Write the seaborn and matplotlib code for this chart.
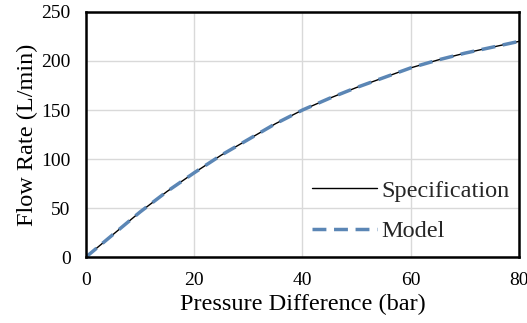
import matplotlib
matplotlib.use("Agg")
import matplotlib.pyplot as plt
import seaborn as sns
import pandas as pd

pressure = [0, 5, 10, 15, 20, 25, 30, 35, 40, 45, 50, 55, 60, 65, 70, 75, 80]
spec_flow = [0, 23, 46, 67, 86, 104, 120, 136, 150, 162, 173, 183, 193, 201, 208, 214, 220]
model_flow = [0, 23, 46, 67, 86, 104, 120, 136, 150, 162, 173, 183, 193, 201, 208, 214, 220]

sns.set_theme(style="white")
plt.rcParams['font.family'] = ['Liberation Serif', 'DejaVu Serif']

fig = plt.figure(figsize=(5.27, 3.23), dpi=100)
ax = fig.add_axes([0.163, 0.204, 0.822, 0.759])

df_spec = pd.DataFrame({"x": pressure, "y": spec_flow})
df_model = pd.DataFrame({"x": pressure, "y": model_flow})
sns.lineplot(data=df_spec, x="x", y="y", ax=ax, color="black", linewidth=1.0, label="Specification")
sns.lineplot(data=df_model, x="x", y="y", ax=ax, color="#5B86B5", linewidth=2.5,
             label="Model")
ax.lines[-1].set_dashes([4.0, 2.2])

ax.set_xlim(0, 80)
ax.set_ylim(0, 250)
ax.set_xticks([0, 20, 40, 60, 80])
ax.set_yticks([0, 50, 100, 150, 200, 250])
ax.grid(True, color="#d9d9d9", linewidth=1.0)
ax.set_axisbelow(True)
for s in ax.spines.values():
    s.set_color("black")
    s.set_linewidth(1.8)
ax.tick_params(axis="both", length=0, labelsize=14, colors="black")
ax.tick_params(axis="y", pad=11)
ax.tick_params(axis="x", pad=11)
ax.set_xlabel("Pressure Difference (bar)", fontsize=17.5, color="black", labelpad=3)
ax.set_ylabel("Flow Rate (L/min)", fontsize=17.5, color="black", labelpad=2)

leg = ax.legend(loc="lower right", frameon=False, fontsize=17.5, handlelength=2.7,
                handletextpad=0.15, labelspacing=0.78, borderaxespad=0.0,
                bbox_to_anchor=(1.0, 0.02))

fig.savefig("out.png", dpi=100)
